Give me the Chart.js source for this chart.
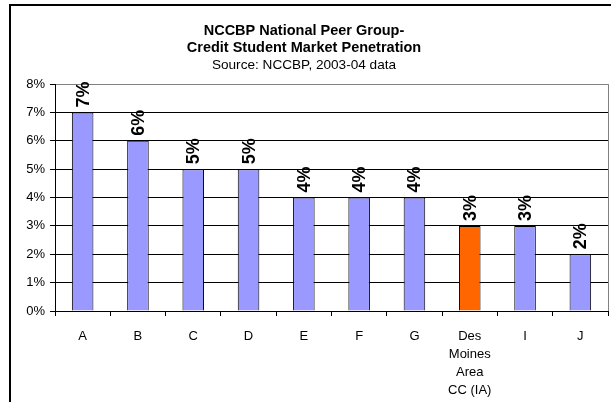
<!DOCTYPE html>
<html>
<head>
<meta charset="utf-8">
<script src="https://cdn.jsdelivr.net/npm/chart.js@4/dist/chart.umd.min.js"></script>
<style>
  html, body { margin: 0; padding: 0; background: #fff; }
  .wrap { position: relative; width: 611px; height: 402px; overflow: hidden; }
  .frame { position: absolute; left: 9px; top: 4px; width: 620px; height: 420px;
           border-top: 2px solid #000; border-left: 2px solid #000; }
  canvas { position: absolute; left: 0; top: 0; }
</style>
</head>
<body>
<div class="wrap">
  <canvas id="barChart" width="611" height="402"></canvas>
  <div class="frame"></div>
</div>
<script>
const categories = ['A', 'B', 'C', 'D', 'E', 'F', 'G', ['Des', 'Moines', 'Area', 'CC (IA)'], 'I', 'J']
const penetration = [7, 6, 5, 5, 4, 4, 4, 3, 3, 2]
const highlight = [false, false, false, false, false, false, false, true, false, false]

const fontFamily = '"Liberation Sans", Arial, sans-serif'

// rotated value labels above each bar
const valueLabels = {
    id: 'valueLabels',
    afterDatasetsDraw(chart) {
        const ctx = chart.ctx
        const meta = chart.getDatasetMeta(0)
        ctx.save()
        ctx.fillStyle = '#000'
        ctx.font = 'bold 18px ' + fontFamily
        ctx.textAlign = 'left'
        ctx.textBaseline = 'middle'
        meta.data.forEach((bar, i) => {
            ctx.save()
            ctx.translate(bar.x, bar.y - 5)
            ctx.rotate(-Math.PI / 2)
            ctx.fillText(penetration[i] + '%', 0, 1)
            ctx.restore()
        })
        ctx.restore()
    }
}

// grey border on right side of the plot
const plotBorder = {
    id: 'plotBorder',
    afterDraw(chart) {
        const { ctx, chartArea } = chart
        ctx.save()
        ctx.strokeStyle = '#808080'
        ctx.lineWidth = 1
        ctx.beginPath()
        ctx.moveTo(Math.round(chartArea.right) + 0.5, chartArea.top)
        ctx.lineTo(Math.round(chartArea.right) + 0.5, chartArea.bottom)
        ctx.stroke()
        ctx.restore()
    }
}

new Chart(document.getElementById('barChart'), {
    type: 'bar',
    data: {
        labels: categories,
        datasets: [{
            data: penetration,
            backgroundColor: highlight.map(h => h ? '#FF6600' : '#9999FF'),
            borderColor: '#000',
            borderWidth: 1,
            categoryPercentage: 1,
            barPercentage: 0.39
        }]
    },
    options: {
        responsive: false,
        animation: false,
        layout: { padding: { left: 0, right: 3, top: 0, bottom: 0 } },
        plugins: {
            legend: { display: false },
            tooltip: { enabled: false },
            title: {
                display: true,
                text: ['NCCBP National Peer Group-', 'Credit Student Market Penetration'],
                color: '#000',
                font: { family: fontFamily, size: 14.5, weight: 'bold', lineHeight: 1.2 },
                padding: { top: 22, bottom: 0 }
            },
            subtitle: {
                display: true,
                text: 'Source: NCCBP, 2003-04 data',
                color: '#000',
                font: { family: fontFamily, size: 13.6, weight: 'normal', lineHeight: 1.2 },
                padding: { top: 0, bottom: 11 }
            }
        },
        scales: {
            x: {
                grid: {
                    drawOnChartArea: false,
                    drawTicks: true,
                    tickLength: 5,
                    offset: true,
                    color: '#000'
                },
                border: { color: '#000', width: 1 },
                ticks: {
                    color: '#000',
                    padding: 11,
                    maxRotation: 0,
                    autoSkip: false,
                    font: { family: fontFamily, size: 13, lineHeight: 1.4 }
                },
                afterFit(scale) { scale.height = 91 }
            },
            y: {
                min: 0,
                max: 8,
                grid: {
                    color: (c) => c.tick && c.tick.value === 8 ? '#808080' : '#000',
                    tickColor: '#000',
                    tickLength: 5
                },
                border: { color: '#000', width: 1 },
                ticks: {
                    stepSize: 1,
                    color: '#000',
                    padding: 5,
                    font: { family: fontFamily, size: 13 },
                    callback: (v) => v + '%'
                },
                afterFit(scale) { scale.width = 55 }
            }
        }
    },
    plugins: [valueLabels, plotBorder]
})
</script>
</body>
</html>
